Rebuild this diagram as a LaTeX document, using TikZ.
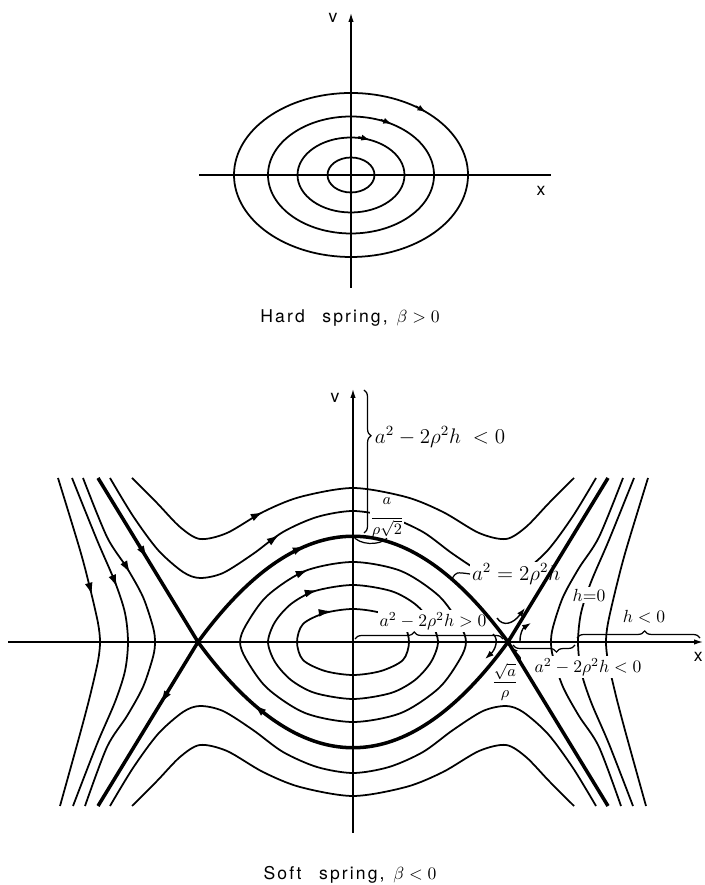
\documentclass[tikz,border=0pt]{standalone}
\usepackage{amsmath}
\usepackage{fontspec}
\setmainfont{TeX Gyre Heros}
\newfontfamily\capfont[LetterSpace=12]{TeX Gyre Heros}
\usetikzlibrary{arrows.meta, decorations.pathreplacing}

\begin{document}
\begin{tikzpicture}[
  x=0.2mm,
  y=0.2mm,
  every node/.style={font=\normalsize},
  axis/.style={line width=0.7pt},
  axisarrow/.style={axis, -{Latex[length=5pt, width=3pt]}},
  orbit/.style={line width=1pt, line join=round},
  separatrix/.style={line width=2pt, line join=round},
  flowtip/.style={line width=1pt, -{Latex[length=7pt, width=4.5pt]}},
  smalltip/.style={line width=0.8pt, -{Latex[length=5pt, width=3.5pt]}},
  leader/.style={line width=0.7pt},
  bracer/.style={line width=0.7pt, decorate,
                 decoration={brace, amplitude=4pt, aspect=#1}},
  lab/.style={fill=white, inner sep=1pt},
  captext/.style={font=\capfont\normalsize}
]
  \useasboundingbox (0,0) rectangle (704,885);

  % ---- hard spring: centre only ----
  \begin{scope}[shift={(351,710)}]
    \draw[axis] (-152,0) -- (200,0);
    \draw[axisarrow] (0,-113) -- (0,162);
    \node (vtop) at (-18,157) {v};
    \node (xtop) at (190,-16) {x};

    \foreach \rx/\ry in {117/82, 83/58.5, 53.5/37.5, 23.5/17.5}
      \draw[orbit] (0,0) ellipse [x radius=\rx, y radius=\ry];

    % direction of motion (clockwise)
    \draw[smalltip] (64.9,68.9) -- (75.2,62.8);
    \draw[smalltip] (29.9,55.4) -- (41,50.9);
    \draw[smalltip] (7.4,38.2)  -- (19,35.1);
  \end{scope}

  \node[captext] (hardcap) at (350,567) {Hard\quad spring,\enspace$\beta>0$};

  % ---- soft spring: centre and two saddles ----
  \begin{scope}[shift={(353,243)}]
    \coordinate (lsaddle) at (-155,0);
    \coordinate (rsaddle) at (155,0);
    \coordinate (peaktop) at (0,106);

    % ---- axes ----
    \draw[axisarrow] (-345,0) -- (350,0);
    \draw[axisarrow] (0,-191) -- (0,253);
    \node (vlow) at (-18,244) {v};
    \node[anchor=east, inner sep=0pt] (xlow) at (350,-15) {x};

    % ---- closed orbits round the centre ----
    \draw[orbit] plot[smooth cycle] coordinates {(0,33) (28,29) (50,18)
      (56,0) (50,-18) (28,-29) (0,-33) (-28,-29) (-50,-18) (-56,0)
      (-50,18) (-28,29)};
    \draw[orbit] plot[smooth cycle] coordinates {(0,57) (38,51) (62,38)
      (78,20) (85,0) (78,-20) (62,-38) (38,-51) (0,-57) (-38,-51)
      (-62,-38) (-78,-20) (-85,0) (-78,20) (-62,38) (-38,51)};
    \draw[orbit] plot[smooth cycle] coordinates {(0,80) (48,71) (86,46)
      (107,17) (113,0) (107,-17) (86,-46) (48,-71) (0,-80) (-48,-71)
      (-86,-46) (-107,-17) (-113,0) (-107,17) (-86,46) (-48,71)};

    % ---- open curves over and under the saddles ----
    \foreach \s in {1,-1} {
      \draw[orbit, yscale=\s] plot[smooth] coordinates {(-221,164)
        (-196,139) (-173,115) (-153,103) (-126,109) (-90,130) (-53,145)
        (0,154) (53,145) (90,130) (126,109) (153,103) (173,115)
        (196,139) (221,164)};
      \draw[orbit, yscale=\s] plot[smooth] coordinates {(-243,164)
        (-220,126) (-195,92) (-170,70) (-153,64) (-130,69) (-100,88)
        (-70,110) (-36,125) (0,131) (36,125) (70,110) (100,88)
        (130,69) (153,64) (170,70) (195,92) (220,126) (243,164)};
    }

    % ---- curves outside the saddles ----
    \foreach \s in {1,-1} {
      \draw[orbit, xscale=\s] plot[smooth] coordinates {(-295,164)
        (-273,92) (-263,54) (-255,19) (-253,0) (-255,-19) (-263,-54)
        (-273,-92) (-293,-164)};
      \draw[orbit, xscale=\s] plot[smooth] coordinates {(-281,164)
        (-256,102) (-238,60) (-228,29) (-225,0) (-228,-29) (-238,-60)
        (-256,-102) (-280,-164)};
      \draw[orbit, xscale=\s] plot[smooth] coordinates {(-270,164)
        (-246,105) (-226,74) (-210,45) (-200,15) (-198,0) (-200,-15)
        (-210,-45) (-226,-74) (-246,-105) (-268,-164)};
    }

    % ---- labels (white, so the curves stop at them) ----
    \node[font=\large] (topreg) at (87,205) {$a^2-2\rho^2h\ <0$};
    \node[lab, font=\small, inner sep=0pt] (peak) at (34,124)
      {$\displaystyle\frac{\raisebox{4pt}{$a$}}{\rho\sqrt{2}}$};
    \node[lab, font=\large, anchor=west] (seplab) at (117,68)
      {$a^2=2\rho^2h$};
    \node[lab] (inreg) at (80,21) {$a^2-2\rho^2h>0$};
    \node[lab] (hzero) at (236,47) {$h{=}0$};
    \node[lab] (hneg) at (291,25) {$h<0$};
    \node[lab] (outreg) at (235,-25) {$a^2-2\rho^2h<0$};
    \node[lab, font=\small] (xsad) at (152,-40)
      {$\displaystyle\frac{\sqrt{a}}{\rho}$};

    % ---- separatrices (drawn over the labels) ----
    \draw[separatrix] (-255,164) -- (lsaddle)
      .. controls (-52,-141) and (52,-141) .. (rsaddle) -- (255,164);
    \draw[separatrix] (-255,-164) -- (lsaddle)
      .. controls (-52,141) and (52,141) .. (rsaddle) -- (255,-164);

    % ---- braces and leaders ----
    \draw[bracer=0.32] (11,252) -- (11,109);
    \draw[bracer=0.4] (2,3) -- (150,3);
    \draw[bracer=0.3] (222,-3) -- (160,-3);
    \draw[bracer=0.55] (224,4) -- (347,4);
    \draw[leader] (peaktop) .. controls (6,97) and (26,96) .. (peak.south);
    \draw[leader] (99,63) .. controls (103,70) .. (seplab.west);
    \draw[leader, -{Latex[length=4pt, width=3pt]}] (xsad.north east)
      .. controls (168,-16) .. ([shift={(3,-5)}]rsaddle);

    % ---- flow near the right saddle ----
    \draw[smalltip] (144,24) .. controls (150,15) and (160,18) .. (172,34);
    \draw[smalltip] (167,1) .. controls (167,9) and (170,14) .. (178,19);
    \draw[smalltip] (140,8) .. controls (147,2) and (141,-9) .. (132,-17);

    % ---- direction of motion ----
    \draw[flowtip] (-100.7,124.6) -- (-90,130);
    \draw[flowtip] (-83.8,100.1) -- (-74,107);
    \draw[flowtip] (-59,90.9) -- (-48,95.8);
    \draw[flowtip] (-56.1,67.5) -- (-45,72);
    \draw[flowtip] (-47.5,48.6) -- (-36,52);
    \draw[flowtip] (-33.9,29.2) -- (-22,31);
    \draw[flowtip] (-264.2,58.5) -- (-261,47);
    \draw[flowtip] (-240.6,66) -- (-236,55);
    \draw[flowtip] (-229,79.3) -- (-223,69);
    \draw[flowtip] (-212.3,94.2) -- (-206,84);
    \draw[flowtip] (-185.7,-50.8) -- (-192,-61);
    \draw[flowtip] (-89.8,-70.5) -- (-99,-62.8);
  \end{scope}

  \node[captext] (softcap) at (350,10) {Soft\quad spring,\enspace$\beta<0$};
\end{tikzpicture}
\end{document}
